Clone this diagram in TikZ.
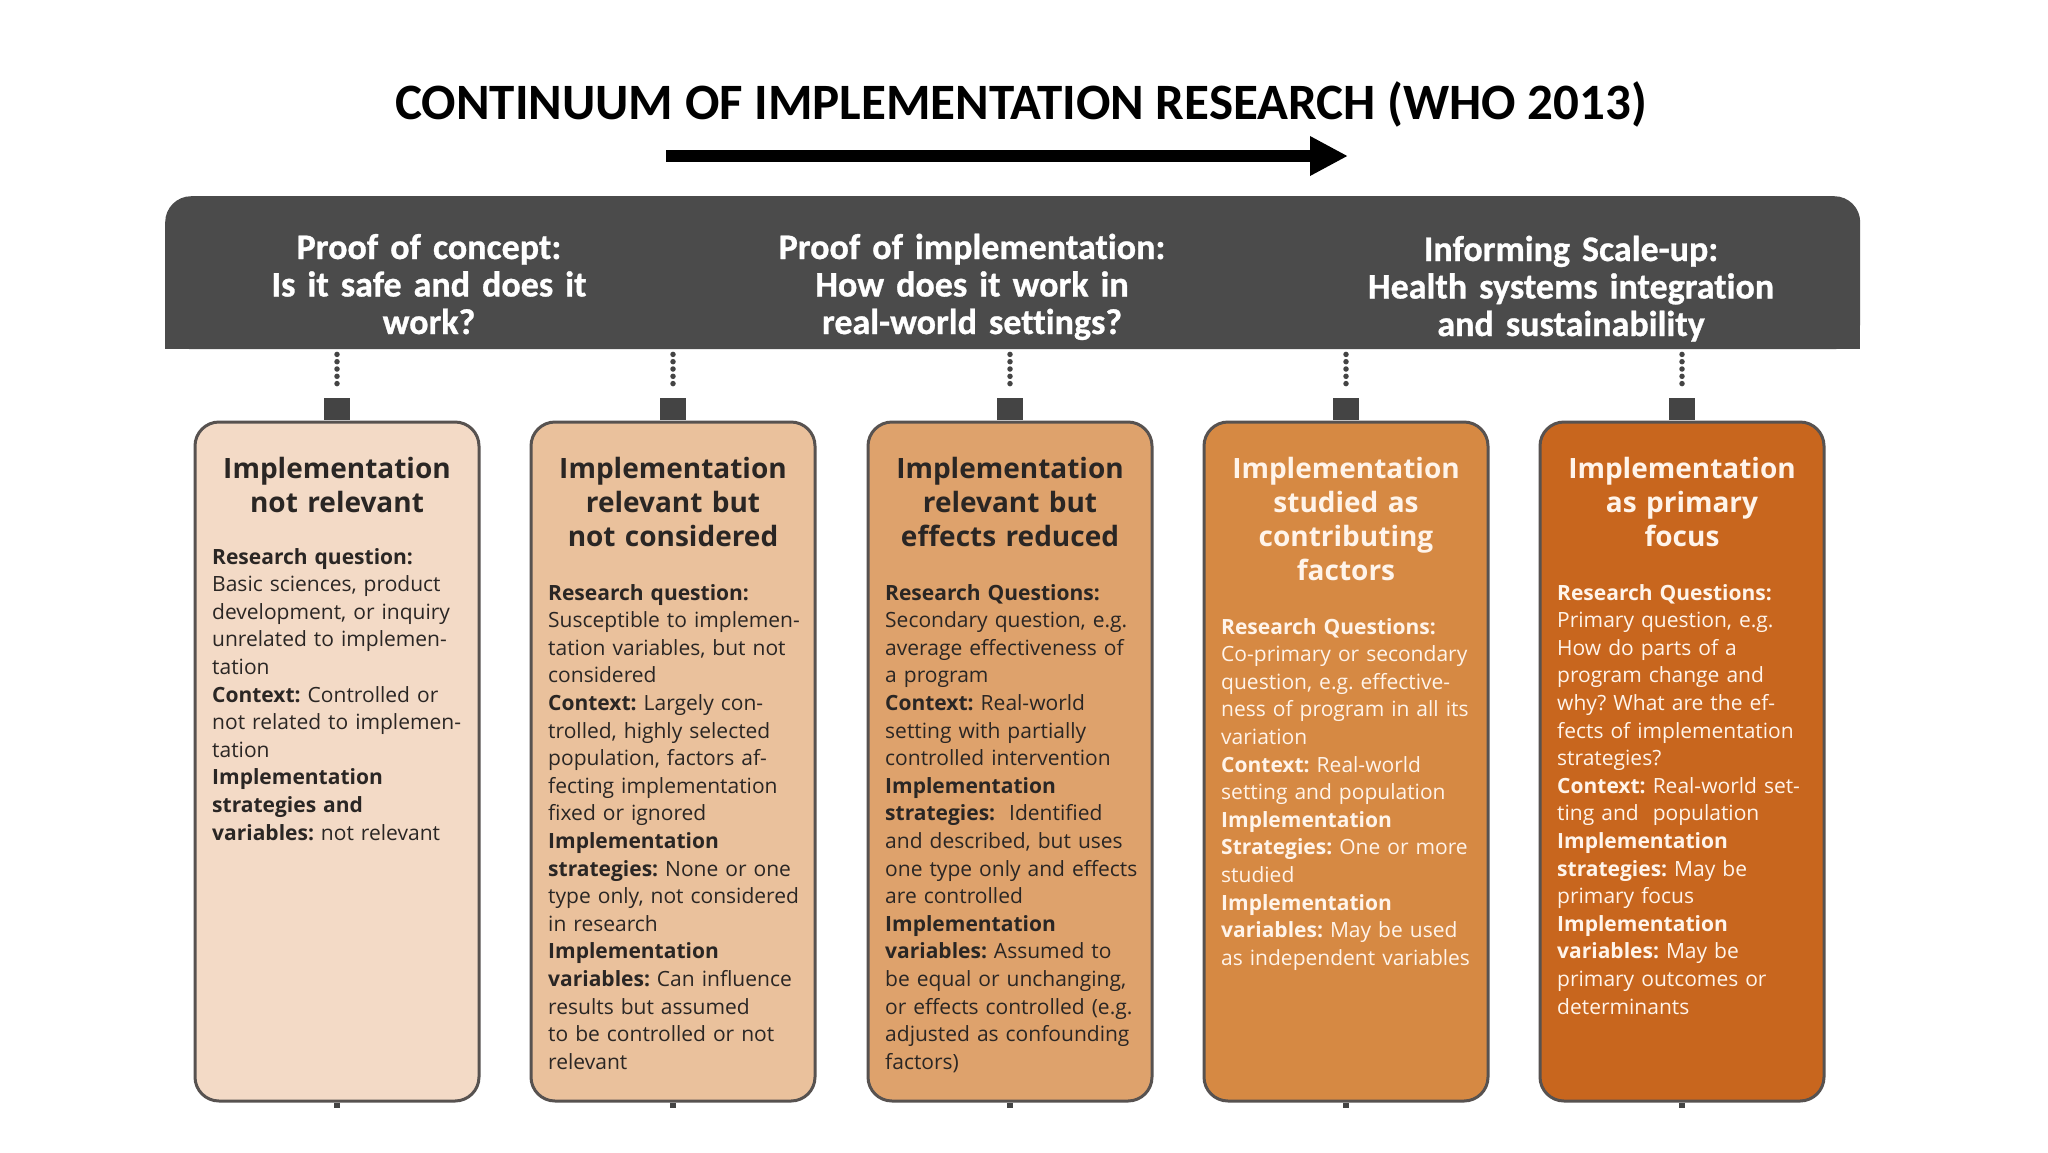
\documentclass[tikz,border=0pt]{standalone}
\usepackage{fontspec}
\setmainfont{Open Sans}
\newfontfamily\cfont[Ligatures=NoCommon]{Carlito}
\newfontfamily\hfont[Ligatures=NoCommon,Contextuals=NoAlternate,FakeBold=0.8,WordSpace=0.85]{Carlito}
\usetikzlibrary{arrows.meta}
\definecolor{hdrgray}{HTML}{4B4B4B}
\definecolor{tabgray}{HTML}{444444}
\definecolor{bordergray}{HTML}{575250}
\definecolor{darktext}{HTML}{2A2624}
\definecolor{lighttext}{HTML}{FFF4EA}
\definecolor{cA}{HTML}{F3DAC6}
\definecolor{cB}{HTML}{EAC19C}
\definecolor{cC}{HTML}{DEA26C}
\definecolor{cD}{HTML}{D68943}
\definecolor{cE}{HTML}{C8661E}
\tikzset{
  hdrtxt/.style={text=white, font=\hfont\bfseries\fontsize{36}{37.5}\selectfont, align=center, text width=600pt, anchor=base, inner sep=0pt},
  tabbox/.style={fill=tabgray, minimum width=26pt, minimum height=22pt, inner sep=0pt},
  dotline/.style={draw=tabgray, line width=5.5pt, line cap=round, dash pattern=on 0pt off 7.3pt, shorten <=5pt, shorten >=8pt},
  colbox/.style={draw=bordergray, line width=3pt, rounded corners=24pt, minimum width=284pt, minimum height=679pt, inner sep=0pt},
  tickmark/.style={fill=tabgray, minimum width=6pt, minimum height=5pt, inner sep=0pt, anchor=north},
  btitle/.style={font=\bfseries\fontsize{28}{34}\selectfont, align=center, text width=284pt, anchor=base, inner sep=0pt},
  bbody/.style={font=\frenchspacing\fontsize{21}{27.6}\selectfont, align=left, text width=290pt, anchor=base west, inner sep=0pt},
}
\begin{document}
\frenchspacing
\begin{tikzpicture}[x=1pt,y=-1pt]
\useasboundingbox (0,0) rectangle (2048,1152);
\fill[white] (0,0) rectangle (2048,1152);

% title and arrow
\node[font=\cfont\bfseries\fontsize{51}{60}\selectfont, anchor=base, inner sep=0pt] (title) at (1021,119) {CONTINUUM OF IMPLEMENTATION RESEARCH (WHO 2013)};
\coordinate (a0) at (666,156);
\coordinate (a1) at (1348,156);
\draw[line width=12.5pt, -{Triangle[length=38pt,width=37pt]}] (a0) -- (a1);

% header band
\node[fill=hdrgray, rounded corners=26pt, minimum width=1695pt, minimum height=153pt, inner sep=0pt, anchor=north west] (hdr) at (165,196) {};
\fill[hdrgray] (hdr.west) rectangle (hdr.south east);
\node[hdrtxt] (h1) at (429,259) {Proof of concept:\\Is it safe and does it\\work?};
\node[hdrtxt] (h2) at (972,259) {Proof of implementation:\\How does it work in\\real-world settings?};
\node[hdrtxt] (h3) at (1571,261) {Informing Scale-up:\\Health systems integration\\and sustainability};

% boxes
\node[colbox, fill=cA] (b1) at (337,761.5) {};
\node[colbox, fill=cB] (b2) at (673,761.5) {};
\node[colbox, fill=cC] (b3) at (1010,761.5) {};
\node[colbox, fill=cD] (b4) at (1346,761.5) {};
\node[colbox, fill=cE] (b5) at (1682,761.5) {};

% tabs, dotted connectors and ticks
\foreach \i in {1,...,5} {
  \node[tabbox, anchor=south] (t\i) at (b\i.north) {};
  \draw[dotline] (hdr.south -| t\i) -- (t\i.north);
  \node[tickmark] (k\i) at (b\i.south) {};
}

% box titles
\node[btitle, text=darktext] (bt1) at (337,478) {Implementation\\not relevant};
\node[btitle, text=darktext] (bt2) at (673,478) {Implementation\\relevant but\\not considered};
\node[btitle, text=darktext] (bt3) at (1010,478) {Implementation\\relevant but\\effects reduced};
\node[btitle, text=lighttext] (bt4) at (1346,478) {Implementation\\studied as\\contributing\\factors};
\node[btitle, text=lighttext] (bt5) at (1682,478) {Implementation\\as primary\\focus};

% box bodies
\node[bbody, text=darktext] (bd1) at (212,564) {\textbf{Research question:}\\Basic sciences, product\\development, or inquiry\\unrelated to implemen-\\tation\\\textbf{Context:} Controlled or\\not related to implemen-\\tation\\\textbf{Implementation}\\\textbf{strategies and}\\\textbf{variables:} not relevant};

\node[bbody, text=darktext] (bd2) at (548,600) {\textbf{Research question:}\\Susceptible to implemen-\\tation variables, but not\\considered\\\textbf{Context:} Largely con-\\trolled, highly selected\\population, factors af-\\fecting implementation\\fixed or ignored\\\textbf{Implementation}\\\textbf{strategies:} None or one\\type only, not considered\\in research\\\textbf{Implementation}\\\textbf{variables:} Can influence\\results but assumed\\to be controlled or not\\relevant};

\node[bbody, text=darktext] (bd3) at (885,600) {\textbf{Research Questions:}\\Secondary question, e.g.\\average effectiveness of\\a program\\\textbf{Context:} Real-world\\setting with partially\\controlled intervention\\\textbf{Implementation}\\\textbf{strategies:}~ Identified\\and described, but uses\\one type only and effects\\are controlled\\\textbf{Implementation}\\\textbf{variables:} Assumed to\\be equal or unchanging,\\or effects controlled (e.g.\\adjusted as confounding\\factors)};

\node[bbody, text=lighttext] (bd4) at (1221,634) {\textbf{Research Questions:}\\Co-primary or secondary\\question, e.g. effective-\\ness of program in all its\\variation\\\textbf{Context:} Real-world\\setting and population\\\textbf{Implementation}\\\textbf{Strategies:} One or more\\studied\\\textbf{Implementation}\\\textbf{variables:} May be used\\as independent variables};

\node[bbody, text=lighttext] (bd5) at (1557,600) {\textbf{Research Questions:}\\Primary question, e.g.\\How do parts of a\\program change and\\why? What are the ef-\\fects of implementation\\strategies?\\\textbf{Context:} Real-world set-\\ting and~ population\\\textbf{Implementation}\\\textbf{strategies:} May be\\primary focus\\\textbf{Implementation}\\\textbf{variables:} May be\\primary outcomes or\\determinants};
\end{tikzpicture}
\end{document}
